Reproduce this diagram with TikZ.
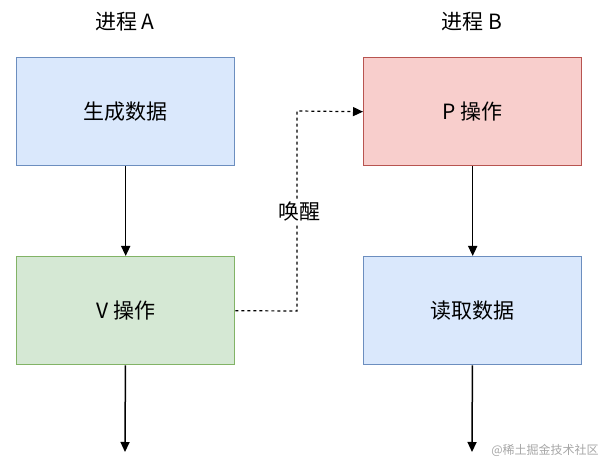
\documentclass[tikz,border=0pt]{standalone}
\usepackage{fontspec}
\setmainfont{Noto Sans CJK SC}
\usetikzlibrary{arrows.meta}
\begin{document}
\begin{tikzpicture}[x=1pt,y=-1pt,
  box/.style={draw,line width=1.4pt,minimum width=218pt,minimum height=108pt,font=\fontsize{21}{24}\selectfont,anchor=north west},
  blue/.style={fill={rgb,255:red,218;green,232;blue,252},draw={rgb,255:red,108;green,142;blue,191}},
  green/.style={fill={rgb,255:red,213;green,232;blue,212},draw={rgb,255:red,130;green,179;blue,102}},
  red/.style={fill={rgb,255:red,248;green,206;blue,204},draw={rgb,255:red,184;green,84;blue,80}},
  arr/.style={draw,line width=1.5pt,-{Triangle[length=10pt,width=9pt]}},
  ttl/.style={font=\fontsize{21}{24}\selectfont}]
\useasboundingbox (0,0) rectangle (614,465);
\node[ttl] (ta) at (125,22) {进程 A};
\node[ttl] (tb) at (472,22) {进程 B};
\node[box,blue] (a1) at (16,57) {生成数据};
\node[box,green] (a2) at (16,256) {V 操作};
\node[box,red] (b1) at (363,57) {P 操作};
\node[box,blue] (b2) at (363,256) {读取数据};
\coordinate (ea) at (125,452);
\coordinate (eb) at (472,452);
\draw[arr] (a1) -- (a2);
\draw[arr] (b1) -- (b2);
\draw[arr] (a2) -- (ea);
\draw[arr] (b2) -- (eb);
\draw[arr,dashed,line width=1.2pt] (a2.east) -- (297,311) -- (297,111) -- (b1.west);
\node[ttl,fill=white,inner sep=1pt] (wk) at (299,212) {唤醒};
\node[font=\fontsize{12}{14}\selectfont,text=gray!70] (wm) at (545,450) {@稀土掘金技术社区};
\end{tikzpicture}
\end{document}
